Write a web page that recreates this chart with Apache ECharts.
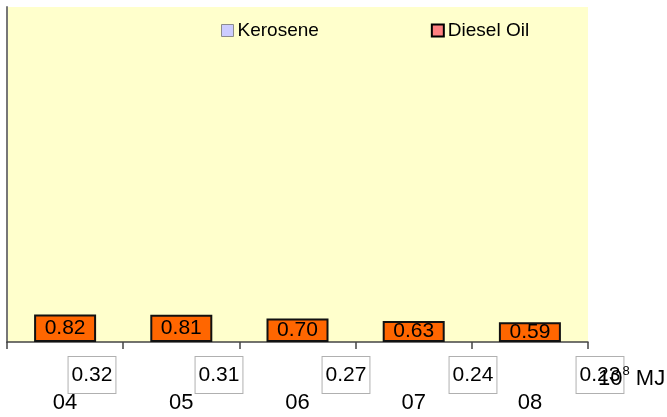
<!DOCTYPE html>
<html><head><meta charset="utf-8">
<script src="https://cdn.jsdelivr.net/npm/echarts@6/dist/echarts.min.js"></script>
<style>html,body{margin:0;padding:0;background:#fff}#c{width:667px;height:417px}</style>
</head><body><div id="c"></div>
<script>
var categories = ['04', '05', '06', '07', '08'];
var kerosene = [0.32, 0.31, 0.27, 0.24, 0.23];
var dieselOil = [0.82, 0.81, 0.70, 0.63, 0.59];
var unitLabel = '10^8 MJ';

var font = 'Liberation Sans, Arial, sans-serif';
var chart = echarts.init(document.getElementById('c'));
chart.setOption({
  animation: false,
  backgroundColor: '#ffffff',
  textStyle: { fontFamily: font },
  legend: {
    left: 221, top: 21, padding: 0, itemWidth: 12, itemHeight: 12, itemGap: 112,
    textStyle: { fontSize: 19, color: '#000', fontFamily: font, padding: [0, 0, 0, -1] },
    data: [
      { name: 'Kerosene', icon: 'rect', itemStyle: { color: '#ccccff', borderColor: '#8c8c8c', borderWidth: 1 } },
      { name: 'Diesel Oil', icon: 'rect', itemStyle: { color: '#ff8080', borderColor: '#000', borderWidth: 2 } }
    ]
  },
  grid: [
    { left: 7, right: 79, top: 7, bottom: 75, show: true, backgroundColor: '#ffffcc', borderWidth: 0 },
    { left: 28.5, right: 3.5, top: 7, bottom: 75 }
  ],
  xAxis: [
    {
      type: 'category', gridIndex: 0, data: categories,
      axisLine: { lineStyle: { color: '#444', width: 1.5 } },
      axisTick: { show: true, length: 7, lineStyle: { color: '#444', width: 1.5 } },
      axisLabel: { fontSize: 22, color: '#000', margin: 50, fontFamily: font }
    },
    { type: 'category', gridIndex: 1, data: categories, show: false }
  ],
  yAxis: [
    {
      type: 'value', gridIndex: 0, min: 0, max: 10,
      axisLine: { show: true, lineStyle: { color: '#777', width: 2 } },
      axisTick: { show: false }, axisLabel: { show: false }, splitLine: { show: false }
    },
    { type: 'value', gridIndex: 1, min: 0, max: 10, show: false }
  ],
  series: [
    {
      name: 'Kerosene', type: 'bar', xAxisIndex: 1, yAxisIndex: 1, data: kerosene,
      barWidth: 40, z: 3,
      itemStyle: { color: 'rgba(0,0,0,0)' },
      label: {
        show: true, position: 'bottom', distance: 15,
        formatter: function (p) { return p.value.toFixed(2); },
        fontSize: 21, color: '#000', fontFamily: font,
        backgroundColor: '#fff', borderColor: '#b0b0b0', borderWidth: 1,
        padding: [7, 3, 7, 3], lineHeight: 22
      }
    },
    {
      name: 'Diesel Oil', type: 'bar', xAxisIndex: 0, yAxisIndex: 0, data: dieselOil,
      barWidth: 62, z: 2,
      itemStyle: { color: '#ff6600', borderColor: '#111', borderWidth: 2 },
      label: {
        show: true, position: 'inside',
        formatter: function (p) { return p.value.toFixed(2); },
        fontSize: 21, color: '#000', fontFamily: font
      }
    }
  ],
  graphic: [
    {
      type: 'text', left: 598, top: 365, z: 10,
      style: {
        text: '{a|10}{s|8}{a| MJ}',
        rich: {
          a: { fontSize: 22, fontFamily: font, fill: '#000', verticalAlign: 'bottom', lineHeight: 25 },
          s: { fontSize: 13, fontFamily: font, fill: '#000', verticalAlign: 'top', lineHeight: 25 }
        }
      }
    }
  ]
});
</script>
</body></html>
